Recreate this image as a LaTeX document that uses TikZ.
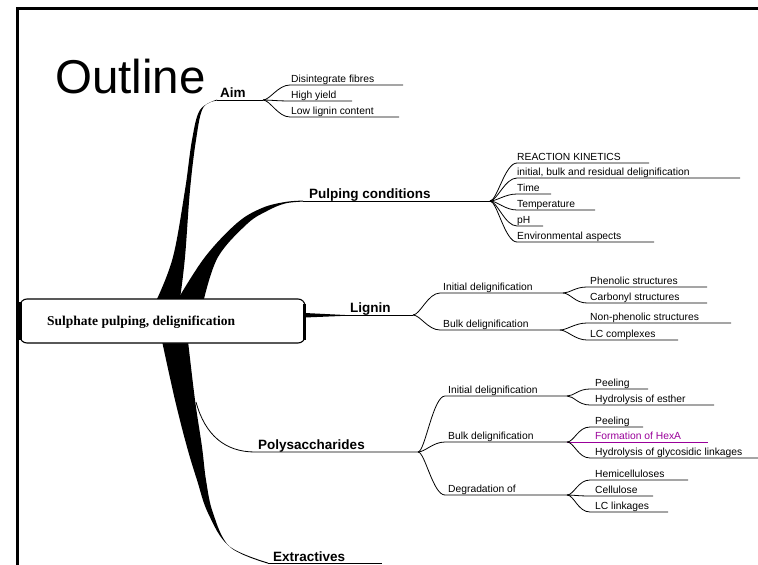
\documentclass[tikz,border=0pt]{standalone}
\usepackage{fontspec}
\setmainfont{Liberation Sans}
\newfontfamily\serifb{Liberation Serif}
\definecolor{hexpurple}{RGB}{153,0,153}
\newcommand{\mmleaf}[8][black]{%
  \coordinate (#3s) at (#4,#5);
  \coordinate (#3e) at (#6,#5);
  \node[lbl,text=#1] (#3) at (#7,#5-2.5) {#8};
  \draw[br,draw=#1] (#2) .. controls +(7,0) and +(-12,0) .. (#3s) -- (#3e);
}
\begin{document}
\begin{tikzpicture}[x=1pt,y=-1pt,
  lbl/.style={font=\fontsize{10.3}{12}\selectfont, anchor=base west, inner sep=0pt},
  blbl/.style={font=\fontsize{13.5}{16}\selectfont\bfseries, anchor=base west, inner sep=0pt},
  br/.style={line width=0.8pt},
  framel/.style={line width=3pt}]
\useasboundingbox (0,0) rectangle (758,565);
% frame
\coordinate (ftl) at (17,8);
\coordinate (ftr) at (758,8);
\coordinate (fbl) at (17,565);
\draw[framel] (fbl) -- (ftl) -- (ftr);
% title
\node[font=\fontsize{47.5}{52}\selectfont, anchor=base west, inner sep=0pt] (title) at (55,93) {Outline};
% trunks
\fill plot[smooth, tension=0.6] coordinates {(157,299) (173,257) (185,190) (192,140) (200,110) (217,99.6)}
  -- plot[smooth, tension=0.6] coordinates {(217,100.6) (203,108) (196,140) (190,190) (185,257) (180,299)} -- cycle;
\fill plot[smooth, tension=0.6] coordinates {(178,299) (205,257) (237,223) (262,208) (285,202) (303,200.6)}
  -- plot[smooth, tension=0.6] coordinates {(303,201.6) (285,203.5) (267,211) (247,224) (218,257) (204,299)} -- cycle;
\fill plot[smooth, tension=0.6] coordinates {(188,341) (195,400) (202,447) (206,480) (213,513) (230,547) (268,563.6)}
  -- plot[smooth, tension=0.6] coordinates {(268,562.6) (229,546) (208,513) (197,480) (187,447) (175,400) (162,341)} -- cycle;
% root node
\node[draw, fill=white, rounded corners=7pt, line width=1.1pt, minimum width=285pt, minimum height=44pt, inner sep=0pt] (root) at (162.5,321) {};
\draw[line width=3pt] ([xshift=1.5pt,yshift=-4pt]root.north west) -- ([xshift=1.5pt,yshift=4pt]root.south west);
\draw[line width=2.5pt] ([xshift=-1pt,yshift=-6pt]root.north east) -- ([xshift=-1pt,yshift=4pt]root.south east);
\node[font=\serifb\bfseries\fontsize{13.5}{16}\selectfont, anchor=base west, inner sep=0pt] (roottxt) at (47,325) {Sulphate pulping, delignification};
% main branch points
\coordinate (aimA) at (217,100);
\coordinate (aimbp) at (263,100);
\coordinate (pulA) at (303,201);
\coordinate (pulbp) at (490,201);
\coordinate (ligA) at (305,315);
\coordinate (ligB) at (345,315);
\coordinate (ligbp) at (413,315);
\coordinate (polT) at (196,402);
\coordinate (polA) at (255,452);
\coordinate (polbp) at (418,452);
\coordinate (extA) at (268,563);
\coordinate (extB) at (382,563);
% Aim
\node[blbl] (aim) at (220,97) {Aim};
\draw[br] (aimA) -- (aimbp);
\mmleaf{aimbp}{a1}{290}{85}{403}{291}{Disintegrate fibres}
\mmleaf{aimbp}{a2}{290}{101}{352}{291}{High yield}
\mmleaf{aimbp}{a3}{290}{117}{399}{291}{Low lignin content}
% Pulping conditions
\node[blbl] (pul) at (309,198) {Pulping conditions};
\draw[br] (pulA) -- (pulbp);
\mmleaf{pulbp}{p1}{517}{163}{649}{517}{REACTION KINETICS}
\mmleaf{pulbp}{p2}{517}{178}{740}{517}{initial, bulk and residual delignification}
\mmleaf{pulbp}{p3}{517}{194}{551}{517}{Time}
\mmleaf{pulbp}{p4}{517}{210}{595}{517}{Temperature}
\mmleaf{pulbp}{p5}{517}{226}{543}{517}{pH}
\mmleaf{pulbp}{p6}{517}{242}{654}{517}{Environmental aspects}
% Lignin
\node[blbl] (lig) at (350,312) {Lignin};
\fill (305,313) -- (ligB) -- (345,315.8) -- (305,317.5) -- cycle;
\draw[br] (ligA) -- (ligbp);
\mmleaf{ligbp}{l1}{440}{293}{563}{443}{Initial delignification}
\mmleaf{ligbp}{l2}{440}{330}{560}{443}{Bulk delignification}
\mmleaf{l1e}{l11}{587}{287}{707}{590}{Phenolic structures}
\mmleaf{l1e}{l12}{587}{303}{707}{590}{Carbonyl structures}
\mmleaf{l2e}{l21}{587}{323}{731}{590}{Non-phenolic structures}
\mmleaf{l2e}{l22}{587}{340}{678}{590}{LC complexes}
% Polysaccharides
\node[blbl] (pol) at (258,449) {Polysaccharides};
\draw[br] (polT) .. controls (205,435) and (225,452) .. (polA) -- (polbp);
\mmleaf{polbp}{s1}{445}{396}{567}{448}{Initial delignification}
\mmleaf{polbp}{s2}{445}{442}{567}{448}{Bulk delignification}
\mmleaf{polbp}{s3}{445}{495}{567}{448}{Degradation of}
\mmleaf{s1e}{s11}{590}{389}{648}{595}{Peeling}
\mmleaf{s1e}{s12}{590}{405}{714}{595}{Hydrolysis of esther}
\mmleaf{s2e}{s21}{590}{427}{643}{595}{Peeling}
\coordinate (s22e) at (708,442);
\node[lbl,text=hexpurple] (s22) at (595,439.5) {Formation of HexA};
\draw[br,draw=hexpurple] (s2e) -- (s22e);
\mmleaf{s2e}{s23}{590}{458}{758}{595}{Hydrolysis of glycosidic linkages}
\mmleaf{s3e}{s31}{590}{480}{688}{595}{Hemicelluloses}
\mmleaf{s3e}{s32}{590}{496}{653}{595}{Cellulose}
\mmleaf{s3e}{s33}{590}{512}{668}{595}{LC linkages}
% Extractives
\node[blbl] (ext) at (273,561) {Extractives};
\draw[br] (extA) -- (extB);
\end{tikzpicture}
\end{document}
